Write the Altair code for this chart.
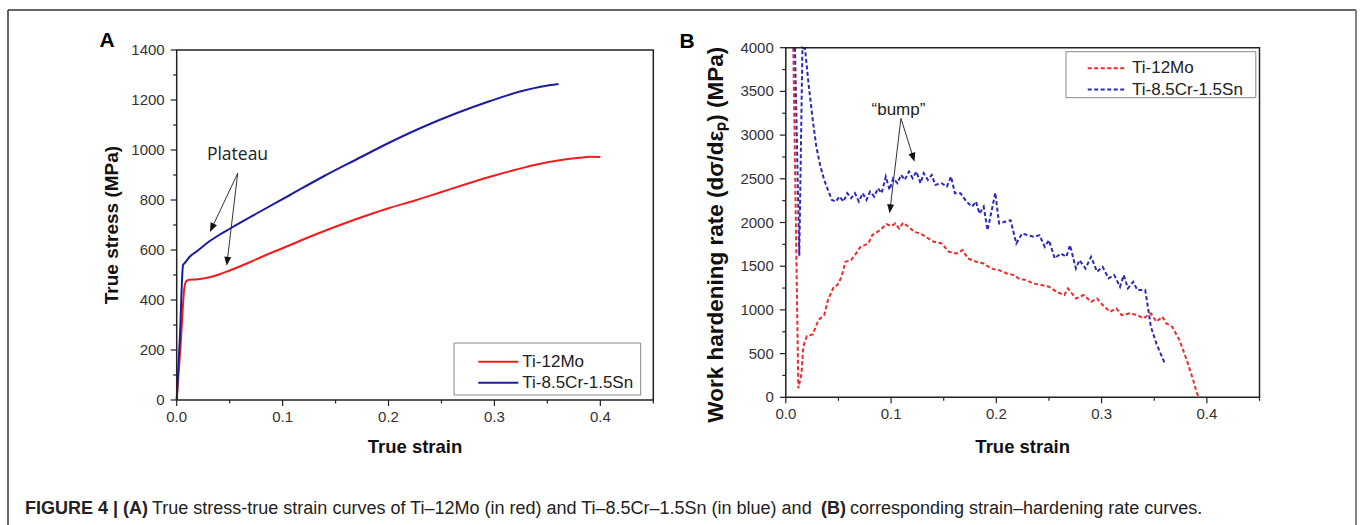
import math
import altair as alt
import pandas as pd

# ------------------------------------------------------------------ data
alloys = ["Ti-12Mo", "Ti-8.5Cr-1.5Sn"]

# Panel A : true stress - true strain
a_mo_strain = [0, 0.004, 0.007, 0.009, 0.012, 0.02, 0.03, 0.04, 0.05, 0.06,
               0.07, 0.08, 0.09, 0.10, 0.12, 0.14, 0.16, 0.18, 0.20, 0.225,
               0.25, 0.275, 0.30, 0.32, 0.34, 0.36, 0.38, 0.39, 0.40]
a_mo_stress = [0, 240, 440, 475, 481, 483, 490, 502, 518, 535,
               553, 572, 590, 607, 643, 677, 709, 739, 767, 798,
               832, 866, 898, 921, 942, 958, 969, 973, 972]
a_cr_strain = [0, 0.003, 0.006, 0.008, 0.012, 0.02, 0.03, 0.04, 0.05, 0.075,
               0.107, 0.138, 0.17, 0.201, 0.233, 0.264, 0.296, 0.327, 0.345, 0.3605]
a_cr_stress = [0, 250, 540, 550, 572, 598, 632, 660, 685, 745,
               820, 893, 963, 1030, 1093, 1147, 1196, 1237, 1254, 1264]

# Panel B : work hardening rate - true strain
b_mo_strain = [0.0071, 0.0119, 0.0150, 0.0166, 0.0200, 0.0256, 0.0310, 0.0365, 0.0400, 0.0456,
               0.0490, 0.0530, 0.0566, 0.0620, 0.0657, 0.0710, 0.0785, 0.0820, 0.0894, 0.0956,
               0.1004, 0.1040, 0.1077, 0.1113, 0.1168, 0.1220, 0.1280, 0.1330, 0.1405, 0.1480,
               0.1550, 0.1620, 0.1680, 0.1730, 0.1810, 0.1880, 0.1950, 0.2026, 0.2100, 0.2170,
               0.2210, 0.2280, 0.2350, 0.2430, 0.2500, 0.2570, 0.2646, 0.2680, 0.2756, 0.2830,
               0.2900, 0.2957, 0.3010, 0.3080, 0.3140, 0.3190, 0.3267, 0.3340, 0.3395, 0.3468,
               0.3520, 0.3577, 0.3614, 0.3670, 0.3740, 0.3814, 0.3870, 0.3906, 0.3925]
b_mo_rate = [4000, 103, 274, 579, 700, 720, 884, 941, 1112, 1265,
             1284, 1379, 1550, 1570, 1627, 1722, 1760, 1855, 1912, 1981,
             1958, 1989, 1931, 1996, 1950, 1893, 1874, 1836, 1779, 1760,
             1665, 1646, 1684, 1589, 1550, 1531, 1474, 1455, 1417, 1398,
             1360, 1341, 1303, 1284, 1265, 1208, 1170, 1246, 1131, 1170,
             1093, 1131, 1055, 979, 1017, 941, 960, 941, 903, 960,
             865, 922, 846, 808, 655, 408, 198, 46, 0]
b_cr_strain = [0.0087, 0.0128, 0.0158, 0.0183, 0.0219, 0.0256, 0.0290, 0.0329, 0.0365, 0.0400,
               0.0438, 0.0475, 0.0510, 0.0548, 0.0584, 0.0620, 0.0657, 0.0694, 0.0730, 0.0767,
               0.0800, 0.0840, 0.0876, 0.0910, 0.0950, 0.0986, 0.1020, 0.1060, 0.1095, 0.1130,
               0.1170, 0.1205, 0.1240, 0.1280, 0.1310, 0.1350, 0.1387, 0.1420, 0.1480, 0.1530,
               0.1570, 0.1606, 0.1660, 0.1716, 0.1770, 0.1807, 0.1840, 0.1880, 0.1916, 0.1950,
               0.1990, 0.2026, 0.2080, 0.2135, 0.2190, 0.2245, 0.2300, 0.2354, 0.2410, 0.2460,
               0.2500, 0.2555, 0.2610, 0.2665, 0.2700, 0.2756, 0.2790, 0.2847, 0.2900, 0.2957,
               0.3010, 0.3066, 0.3120, 0.3175, 0.3210, 0.3250, 0.3300, 0.3340, 0.3414, 0.3430,
               0.3468, 0.3520, 0.3560, 0.3600]
b_cr_rate = [4000, 1620, 4000, 3985, 3554, 3173, 2868, 2640, 2487, 2373,
             2258, 2239, 2297, 2239, 2335, 2278, 2335, 2239, 2335, 2258,
             2354, 2297, 2392, 2335, 2526, 2373, 2506, 2449, 2544, 2487,
             2583, 2506, 2583, 2449, 2564, 2487, 2544, 2430, 2449, 2411,
             2526, 2335, 2335, 2239, 2182, 2239, 2100, 2182, 1912, 2103,
             2340, 1989, 2008, 2027, 1760, 1874, 1855, 1836, 1855, 1722,
             1798, 1589, 1646, 1608, 1741, 1474, 1570, 1474, 1608, 1436,
             1493, 1360, 1398, 1265, 1398, 1246, 1322, 1227, 1227, 1112,
             808, 617, 503, 389]

# ticks and tick labels
strain_major = [0.0, 0.1, 0.2, 0.3, 0.4]
strain_minor = [0.05, 0.15, 0.25, 0.35, 0.45]
strain_labels = ["0.0", "0.1", "0.2", "0.3", "0.4"]
stress_major = [0, 200, 400, 600, 800, 1000, 1200, 1400]
stress_minor = [100, 300, 500, 700, 900, 1100, 1300]
stress_labels = ["0", "200", "400", "600", "800", "1000", "1200", "1400"]
rate_major = [0, 500, 1000, 1500, 2000, 2500, 3000, 3500, 4000]
rate_minor = [250, 750, 1250, 1750, 2250, 2750, 3250, 3750]
rate_labels = ["0", "500", "1000", "1500", "2000", "2500", "3000", "3500", "4000"]

# annotations (data coordinates of each panel)
plateau_text = ["Plateau"]
plateau_pos = [0.0574, 980]
plateau_start = [0.0576, 907]
plateau_tips = [[0.0314, 672], [0.0472, 537]]
bump_text = ["\u201cbump\u201d"]
bump_pos = [0.1070, 3287]
bump_start = [0.1094, 3192]
bump_tips = [[0.1223, 2696], [0.0986, 2105]]

caption_parts = ["FIGURE 4 | (A)",
                 "True stress-true strain curves of Ti\u201312Mo (in red) and Ti\u20138.5Cr\u20131.5Sn (in blue) and",
                 "(B)",
                 "corresponding strain\u2013hardening rate curves."]

# ------------------------------------------------------------------ layout / style
W, H = 1363, 525
XD = [0, 0.45]
A_YD = [0, 1400]
B_YD = [0, 4000]
A_XR, A_YR = [176.7, 653.3], [400, 50]
B_XR, B_YR = [785.8, 1259.5], [397.3, 47.7]

FONT = "Liberation Sans"
RED_A, BLUE_A = "#f21c1c", "#1c1c9e"
RED_B, BLUE_B = "#ee2a2a", "#2a2ab8"
AX = "#222222"
DASH = [4, 2.5]
HEAD_SIZE = 100
HEAD_PATH = "M0,-1L-0.7,0.8L0.7,0.8Z"

one = pd.DataFrame({"k": [0]})


def arrow_frame(start, tips, xr, yr, yd):
    sx = (xr[1] - xr[0]) / (XD[1] - XD[0])
    sy = (yr[1] - yr[0]) / (yd[1] - yd[0])
    back = math.sqrt(HEAD_SIZE) / 2
    rows = []
    for tx, ty in tips:
        dxp, dyp = (tx - start[0]) * sx, (ty - start[1]) * sy
        L = math.hypot(dxp, dyp)
        ux, uy = dxp / L, dyp / L
        cx, cy = tx - ux * back / sx, ty - uy * back / sy
        ang = math.degrees(math.atan2(ux, -uy)) % 360
        rows.append({"x": start[0], "y": start[1], "x2": cx, "y2": cy, "ang": ang})
    return pd.DataFrame(rows)


def axes_layers(sx, sy, yd, y_major, y_minor, y_labels, ytitle, ytitle_size, ytitle_dx,
                ytitle_center, xtitle_dy):
    x0, y0 = XD[0], yd[0]
    xmid = (XD[0] + XD[1]) / 2
    Xd = lambda v: alt.XDatum(v, scale=sx, axis=None)
    Yd = lambda v: alt.YDatum(v, scale=sy, axis=None)
    Xf = lambda f: alt.X(f, scale=sx, axis=None)
    Yf = lambda f: alt.Y(f, scale=sy, axis=None)
    out = []
    for vals, ln in ((strain_major, 6), (strain_minor, 3.5)):
        out.append(alt.Chart(pd.DataFrame({"v": vals})).mark_rule(
            color=AX, strokeWidth=1.2, y2Offset=ln).encode(
            x=Xf("v:Q"), y=Yd(y0), y2=alt.Y2Datum(y0)))
    for vals, ln in ((y_major, 6), (y_minor, 3.5)):
        out.append(alt.Chart(pd.DataFrame({"v": vals})).mark_rule(
            color=AX, strokeWidth=1.2, x2Offset=-ln).encode(
            y=Yf("v:Q"), x=Xd(x0), x2=alt.X2Datum(x0)))
    out.append(alt.Chart(pd.DataFrame({"v": strain_major, "t": strain_labels})).mark_text(
        font=FONT, fontSize=15, color="#333", baseline="top", yOffset=10).encode(
        x=Xf("v:Q"), y=Yd(y0), text="t:N"))
    out.append(alt.Chart(pd.DataFrame({"v": y_major, "t": y_labels})).mark_text(
        font=FONT, fontSize=15, color="#333", align="right", baseline="middle", xOffset=-12).encode(
        y=Yf("v:Q"), x=Xd(x0), text="t:N"))
    out.append(alt.Chart(one).mark_text(
        text="True strain", font=FONT, fontSize=18.5, fontWeight="bold", color="#111",
        baseline="middle", yOffset=xtitle_dy).encode(x=Xd(xmid), y=Yd(y0)))
    out.append(alt.Chart(one).mark_text(
        text=ytitle, font=FONT, fontSize=ytitle_size, fontWeight="bold", color="#111",
        baseline="middle", angle=270, xOffset=ytitle_dx).encode(x=Xd(x0), y=Yd(ytitle_center)))
    return out


def panel(df, sx, sy, xr, yr, yd, colors, dash, interp,
          label, label_pos, start, tips, label_font, label_size, axes):
    box = alt.Chart(one).mark_rect(fillOpacity=0, stroke=AX, strokeWidth=1.5).encode(
        x=alt.XDatum(XD[0], scale=sx, axis=None), x2=alt.X2Datum(XD[1]),
        y=alt.YDatum(yd[0], scale=sy, axis=None), y2=alt.Y2Datum(yd[1]))
    line_kw = dict(strokeWidth=2, interpolate=interp)
    if dash:
        line_kw["strokeDash"] = dash
    lines = alt.Chart(df).mark_line(**line_kw).encode(
        x=alt.X("x:Q", scale=sx, axis=None),
        y=alt.Y("y:Q", scale=sy, axis=None),
        color=alt.Color("alloy:N", scale=alt.Scale(domain=alloys, range=colors), legend=None),
        detail="alloy:N", order="i:Q")
    arr = arrow_frame(start, tips, xr, yr, yd)
    rules = alt.Chart(arr).mark_rule(color="#333", strokeWidth=1).encode(
        x=alt.X("x:Q", scale=sx, axis=None), y=alt.Y("y:Q", scale=sy, axis=None),
        x2="x2:Q", y2="y2:Q")
    heads = alt.Chart(arr).mark_point(shape=HEAD_PATH, size=HEAD_SIZE, filled=True,
                                      color="#111", opacity=1).encode(
        x=alt.X("x2:Q", scale=sx, axis=None), y=alt.Y("y2:Q", scale=sy, axis=None),
        angle=alt.Angle("ang:Q", scale=None))
    txt = alt.Chart(pd.DataFrame({"x": [label_pos[0]], "y": [label_pos[1]], "t": label})).mark_text(
        font=label_font, fontSize=label_size, color="#222", baseline="middle").encode(
        x=alt.X("x:Q", scale=sx, axis=None), y=alt.Y("y:Q", scale=sy, axis=None), text="t:N")
    return alt.layer(*axes, lines, box, rules, heads, txt)


def legend(box, x1, x2, tx, ys, colors, dash):
    parts = [alt.Chart(one).mark_rect(fill="white", stroke="#888", strokeWidth=1).encode(
        x=alt.value(box[0]), x2=alt.value(box[1]), y=alt.value(box[2]), y2=alt.value(box[3]))]
    for name, y, c in zip(alloys, ys, colors):
        kw = dict(color=c, strokeWidth=2)
        if dash:
            kw["strokeDash"] = dash
        parts.append(alt.Chart(one).mark_rule(**kw).encode(
            x=alt.value(x1), x2=alt.value(x2), y=alt.value(y)))
        parts.append(alt.Chart(one).mark_text(
            text=name, font=FONT, fontSize=17, color="#222", align="left", baseline="middle").encode(
            x=alt.value(tx), y=alt.value(y)))
    return alt.layer(*parts)


def series(xs, ys, name):
    return pd.DataFrame({"x": xs, "y": ys, "alloy": name, "i": list(range(len(xs)))})


dfA = pd.concat([series(a_mo_strain, a_mo_stress, alloys[0]),
                 series(a_cr_strain, a_cr_stress, alloys[1])])
dfB = pd.concat([series(b_mo_strain, b_mo_rate, alloys[0]),
                 series(b_cr_strain, b_cr_rate, alloys[1])])

sxA = alt.Scale(domain=XD, range=A_XR, nice=False, zero=False)
syA = alt.Scale(domain=A_YD, range=A_YR, nice=False, zero=False)
sxB = alt.Scale(domain=XD, range=B_XR, nice=False, zero=False)
syB = alt.Scale(domain=B_YD, range=B_YR, nice=False, zero=False)

axesA = axes_layers(sxA, syA, A_YD, stress_major, stress_minor, stress_labels,
                    "True stress (MPa)", 19, 112 - A_XR[0], 700, 447 - A_YR[0])
axesB = axes_layers(sxB, syB, B_YD, rate_major, rate_minor, rate_labels,
                    "Work hardening rate (d\u03c3/d\u03b5\u209a) (MPa)", 22.5, 716 - B_XR[0], 1860,
                    447 - B_YR[0])

panelA = panel(dfA, sxA, syA, A_XR, A_YR, A_YD, [RED_A, BLUE_A], None, "monotone",
               plateau_text, plateau_pos, plateau_start, plateau_tips, "Open Sans", 17.5, axesA)
panelB = panel(dfB, sxB, syB, B_XR, B_YR, B_YD, [RED_B, BLUE_B], DASH, "linear",
               bump_text, bump_pos, bump_start, bump_tips, FONT, 17, axesB)

legendA = legend([454, 640.7, 343, 395], 478.3, 518.3, 522.3, [361.7, 382.7], [RED_A, BLUE_A], None)
legendB = legend([1066, 1255.8, 51.7, 97.7], 1087.7, 1126, 1132, [68.3, 89.5], [RED_B, BLUE_B], DASH)

# outer frame of the figure
frame = alt.layer(
    alt.Chart(one).mark_rule(color="#333", strokeWidth=1.5).encode(
        x=alt.value(8), y=alt.value(10), y2=alt.value(H)),
    alt.Chart(one).mark_rule(color="#333", strokeWidth=1.5).encode(
        x=alt.value(8), x2=alt.value(1356), y=alt.value(10)),
    alt.Chart(one).mark_rule(color="#777", strokeWidth=1.8).encode(
        x=alt.value(1356), y=alt.value(10), y2=alt.value(H)),
)

letters = alt.layer(
    alt.Chart(one).mark_text(text="A", font=FONT, fontSize=21, fontWeight="bold",
                             color="#000", baseline="middle").encode(
        x=alt.value(107), y=alt.value(41)),
    alt.Chart(one).mark_text(text="B", font=FONT, fontSize=21, fontWeight="bold",
                             color="#000", baseline="middle").encode(
        x=alt.value(687), y=alt.value(42)),
)

cap_x = [25, 152, 821, 850]
cap_bold = [True, False, True, False]
caption = alt.layer(*[
    alt.Chart(one).mark_text(text=t, font=FONT, fontSize=18,
                             fontWeight="bold" if b else "normal", color="#222",
                             align="left", baseline="middle").encode(
        x=alt.value(cx), y=alt.value(509))
    for t, cx, b in zip(caption_parts, cap_x, cap_bold)
])

chart = alt.layer(frame, letters, caption, panelA, panelB, legendA, legendB).resolve_scale(
    x="independent", y="independent", color="independent"
).properties(
    width=W, height=H, autosize=alt.AutoSizeParams(type="none"), padding=0, background="white"
).configure_view(stroke=None)

chart.save("out.html", embed_options={"renderer": "svg", "actions": False})
